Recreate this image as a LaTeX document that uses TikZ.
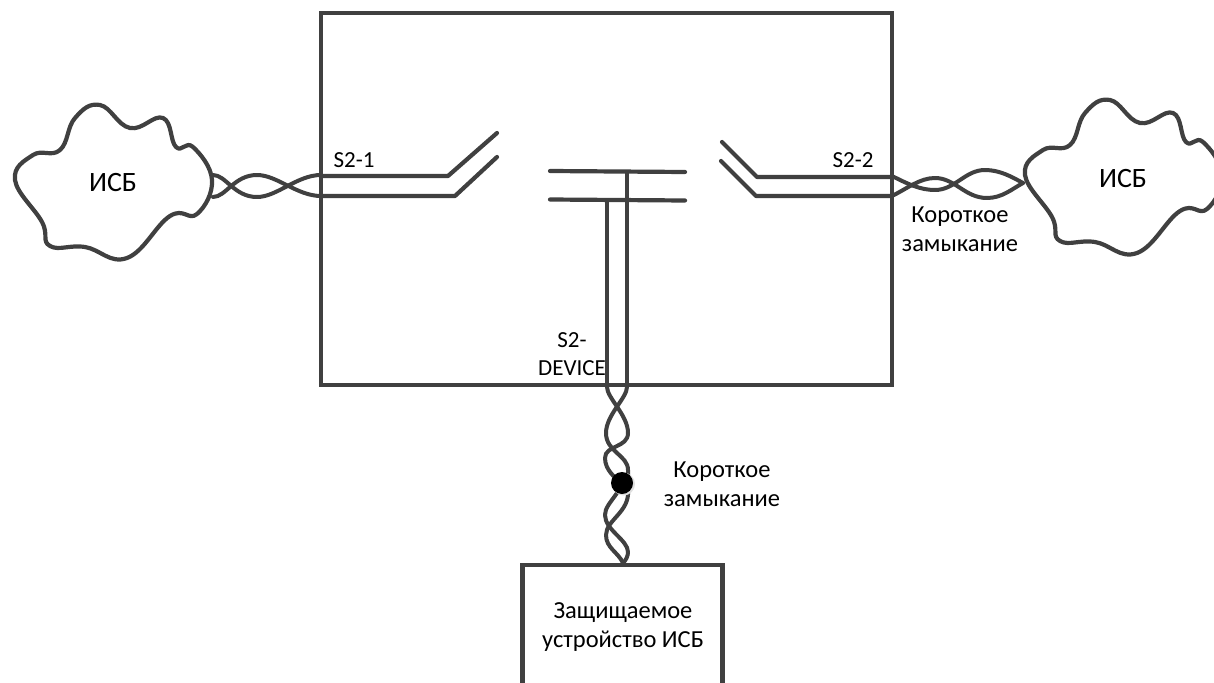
\documentclass[tikz,border=0pt]{standalone}
\usepackage{fontspec}
\setmainfont{Carlito}
\definecolor{ln}{HTML}{404040}
\tikzset{
  wire/.style={draw=ln,line width=4.2pt,line cap=round,line join=round},
  thin wire/.style={wire,line width=3.8pt},
  twist/.style={wire,line width=4pt},
  lbl/.style={inner sep=0pt,align=center,font=\fontsize{24.5}{29}\selectfont,text=black},
  big lbl/.style={inner sep=0pt,font=\fontsize{28}{30}\selectfont,text=black},
  small lbl/.style={inner sep=0pt,align=center,font=\fontsize{23}{28}\selectfont,text=black},
  frame/.style={draw=ln,line width=4.2pt,fill=white,outer sep=0pt,inner sep=0pt},
}
\newcommand{\cloudpath}{%
  plot[smooth cycle,tension=0.72] coordinates {
    (100,105) (130,128) (163,118) (176,147) (193,147) (212,180) (197,214)
    (170,216) (127,258) (85,247) (50,246) (42,222) (15,180) (33,155) (60,150) (75,118)}
}
\begin{document}
\begin{tikzpicture}[x=1pt,y=-1pt]
\useasboundingbox (0,0) rectangle (1214,682);
\clip (0,0) rectangle (1214,682);

% main box
\node[frame,minimum width=571pt,minimum height=372pt,anchor=north west] (mainbox) at (321,13) {};

% clouds
\draw[wire] \cloudpath;
\begin{scope}[xshift=1010pt,yshift=5pt]
\draw[wire] \cloudpath;
\end{scope}
\node[big lbl] (cloudL) at (113,183) {ИСБ};
\node[big lbl] (cloudR) at (1123,179) {ИСБ};

% switch contacts
\coordinate (L1a) at (321,176);
\coordinate (L1b) at (448,176);
\coordinate (L1c) at (497,133);
\coordinate (L2a) at (321,196);
\coordinate (L2b) at (455,196);
\coordinate (L2c) at (497,157);
\draw[wire] (L1a) -- (L1b) -- (L1c);
\draw[wire] (L2a) -- (L2b) -- (L2c);

\coordinate (R1a) at (892,177);
\coordinate (R1b) at (757,177);
\coordinate (R1c) at (722,142);
\coordinate (R2a) at (892,196);
\coordinate (R2b) at (756,196);
\coordinate (R2c) at (721,161);
\draw[wire] (R1a) -- (R1b) -- (R1c);
\draw[wire] (R2a) -- (R2b) -- (R2c);

% centre bars
\coordinate (B1a) at (550,171);
\coordinate (B1b) at (685,172);
\coordinate (B2a) at (550,199.5);
\coordinate (B2b) at (685,200.5);
\draw[wire] (B1a) -- (B1b);
\draw[wire] (B2a) -- (B2b);
\coordinate (V1t) at (627,172);
\coordinate (V1b) at (627,385);
\coordinate (V2t) at (607,200);
\coordinate (V2b) at (607,385);
\draw[thin wire] (V1t) -- (V1b);
\draw[thin wire] (V2t) -- (V2b);

% left twist
\draw[twist] (213,175) .. controls (226,175) and (234,197) .. (257,197) .. controls (277,197) and (297,175) .. (321,175);
\draw[twist] (213,197) .. controls (226,197) and (234,175) .. (257,175) .. controls (277,175) and (297,196) .. (321,196);
% right twist
\draw[twist] (892,176) .. controls (908,184) and (920,190) .. (935,190) .. controls (955,190) and (965,170) .. (985,170) .. controls (1000,170) and (1012,177) .. (1023,183);
\draw[twist] (892,196) .. controls (908,188) and (920,178) .. (935,178) .. controls (955,178) and (965,198) .. (987,198) .. controls (1002,198) and (1012,189) .. (1023,183);
% bottom twist
\draw[twist] (607,387) .. controls (607,398) and (628,415) .. (628,433) .. controls (628,448) and (605,445) .. (605,458) .. controls (605,470) and (615,477) .. (620,483);
\draw[twist] (627,387) .. controls (627,398) and (606,415) .. (606,433) .. controls (606,452) and (628,455) .. (628,470) .. controls (628,475) and (628,480) .. (628,485);
\draw[twist] (628,490) .. controls (630,512) and (606,520) .. (606,535) .. controls (606,548) and (618,552) .. (623,563);
\draw[twist] (617,493) .. controls (610,503) and (605,508) .. (605,515) .. controls (605,530) and (628,540) .. (628,552) .. controls (628,556) and (626,560) .. (623,563);

% short-circuit dot
\fill[black!12] (623.5,484) circle (11.5pt);
\node[circle,fill=black,minimum size=22pt,inner sep=0pt] (fault) at (622,483) {};

% device box
\node[frame,minimum width=200pt,minimum height=160pt,anchor=north west] (device) at (522.5,565) {};
\node[lbl] (devtxt) at (623,627) {Защищаемое\\устройство ИСБ};

% labels
\node[small lbl] (s21) at (354,160) {S2-1};
\node[small lbl] (s22) at (853,160) {S2-2};
\node[small lbl] (s2d) at (572,354) {S2-\\DEVICE};
\node[lbl] (kzR) at (960,229) {Короткое\\замыкание};
\node[lbl] (kzB) at (722,484) {Короткое\\замыкание};
\end{tikzpicture}
\end{document}
